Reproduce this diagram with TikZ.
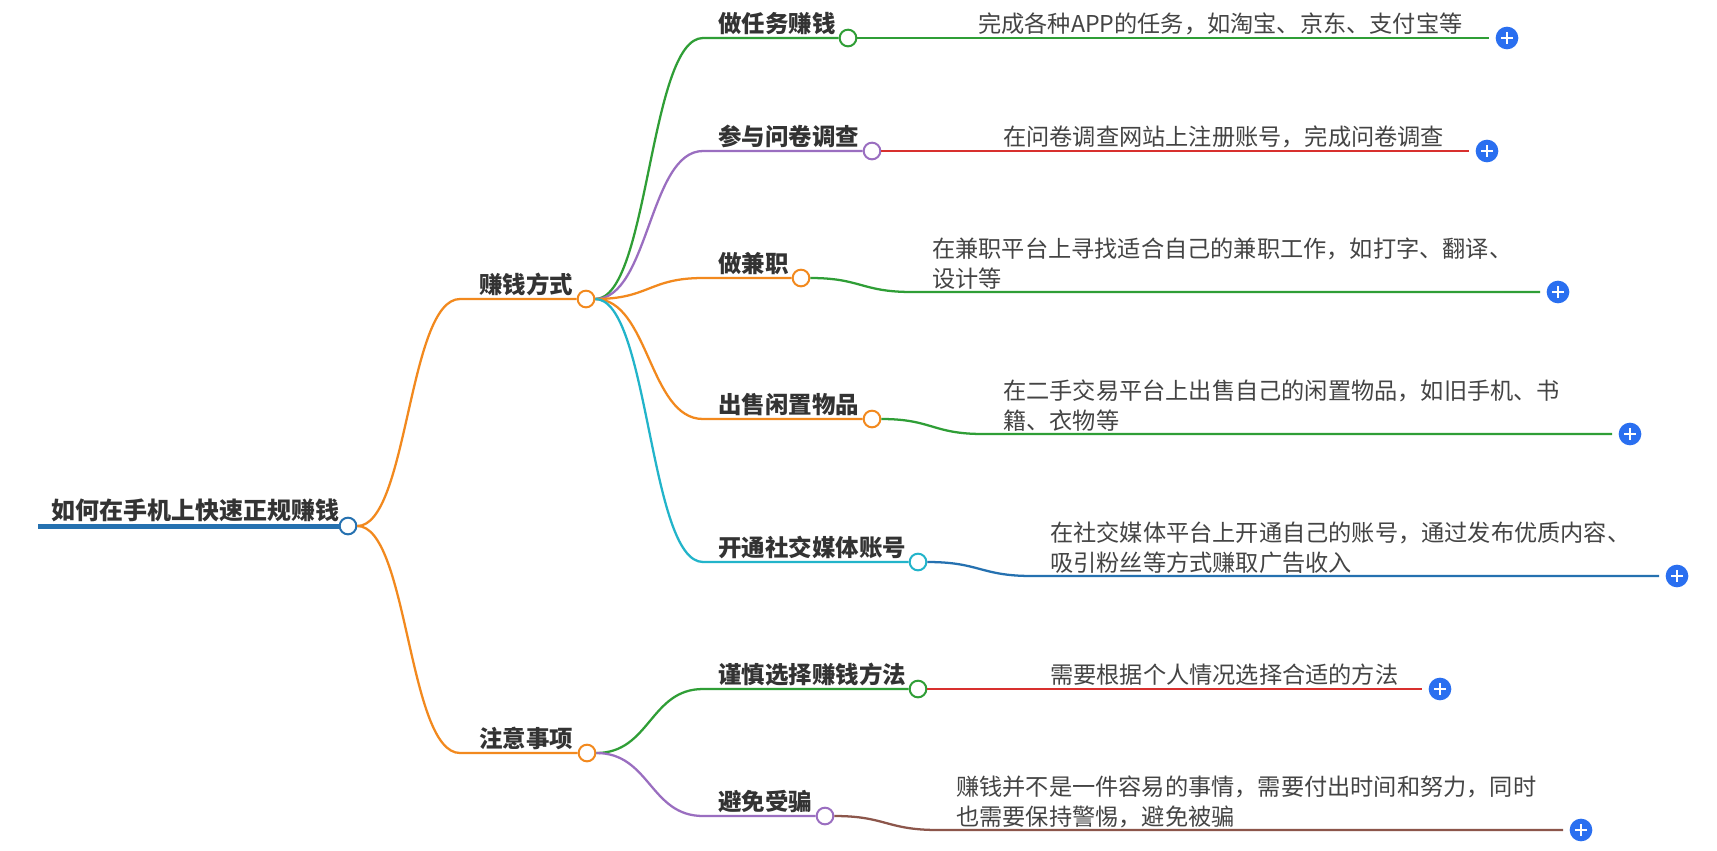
\documentclass[tikz,border=0pt]{standalone}
\usepackage{fontspec}
\newfontfamily\cjk{Noto Sans CJK SC}
\definecolor{corange}{HTML}{F2891E}
\definecolor{cgreen}{HTML}{2F9E36}
\definecolor{cpurple}{HTML}{9A6EC0}
\definecolor{cred}{HTML}{D8302E}
\definecolor{ccyan}{HTML}{22B4CA}
\definecolor{cblue}{HTML}{2571B0}
\definecolor{cbrown}{HTML}{8C564B}
\definecolor{cplus}{HTML}{2A6FF0}
\definecolor{txtc}{HTML}{333333}
\definecolor{leafc}{HTML}{444444}
\begin{document}
\begin{tikzpicture}[x=0.75pt,y=-0.75pt,
  lbl/.style={font=\cjk\bfseries\fontsize{17.6pt}{22pt}\selectfont, text=txtc, inner sep=0pt, anchor=south west},
  rootlbl/.style={lbl, font=\cjk\bfseries\fontsize{18pt}{22pt}\selectfont},
  leaf/.style={font=\cjk\fontsize{17.4pt}{22.5pt}\selectfont, text=leafc, inner sep=0pt, anchor=south west, align=left},
  dot/.style={circle, draw=#1, fill=white, line width=1.5pt, minimum size=12.5pt, inner sep=0pt},
  conn/.style={line width=1.7pt, draw=#1},
  plusbtn/.style={circle, fill=cplus, minimum size=17pt, inner sep=0pt, outer sep=5pt,
    path picture={\draw[white, line width=1.6pt] (path picture bounding box.center) +(-4.2pt,0) -- +(4.2pt,0)
      (path picture bounding box.center) +(0,-4.2pt) -- +(0,4.2pt);}}
]
\useasboundingbox (0,0) rectangle (1717,850);
\fill[white] (0,0) rectangle (1717,850);

% root
\coordinate (roots) at (38,526);
\node[rootlbl] (root) at (51,522) {如何在手机上快速正规赚钱};
\node[dot=cblue] (rootc) at (348,526) {};
\draw[line width=3.75pt, cblue] (roots) -- (rootc.west);

% level 1
\coordinate (As) at (460,299);
\node[lbl] (A) at (479,296) {赚钱方式};
\node[dot=corange] (Ac) at (586,299) {};
\coordinate (Bs) at (460,753);
\node[lbl] (B) at (479,750) {注意事项};
\node[dot=corange] (Bc) at (587,753) {};
\draw[conn=corange] (rootc.east) .. controls (408,526) and (408,299) .. (As) -- (Ac.west);
\draw[conn=corange] (rootc.east) .. controls (408,526) and (408,753) .. (Bs) -- (Bc.west);

% level 2 under A
\coordinate (A1s) at (703,38);
\node[lbl] (A1) at (718,35) {做任务赚钱};
\node[dot=cgreen] (A1c) at (848,38) {};
\coordinate (A2s) at (703,151);
\node[lbl] (A2) at (718,148) {参与问卷调查};
\node[dot=cpurple] (A2c) at (872,151) {};
\coordinate (A3s) at (703,278);
\node[lbl] (A3) at (718,275) {做兼职};
\node[dot=corange] (A3c) at (801,278) {};
\coordinate (A4s) at (703,419);
\node[lbl] (A4) at (718,416) {出售闲置物品};
\node[dot=corange] (A4c) at (872,419) {};
\coordinate (A5s) at (703,562);
\node[lbl] (A5) at (718,559) {开通社交媒体账号};
\node[dot=ccyan] (A5c) at (918,562) {};

\draw[conn=cgreen] (Ac.east) .. controls (649,299) and (649,38) .. (A1s) -- (A1c.west);
\draw[conn=cpurple] (Ac.east) .. controls (649,299) and (649,151) .. (A2s) -- (A2c.west);
\draw[conn=corange] (Ac.east) .. controls (649,299) and (649,278) .. (A3s) -- (A3c.west);
\draw[conn=corange] (Ac.east) .. controls (649,299) and (649,419) .. (A4s) -- (A4c.west);
\draw[conn=ccyan] (Ac.east) .. controls (649,299) and (649,562) .. (A5s) -- (A5c.west);

% level 2 under B
\coordinate (B1s) at (703,689);
\node[lbl] (B1) at (718,686) {谨慎选择赚钱方法};
\node[dot=cgreen] (B1c) at (918,689) {};
\coordinate (B2s) at (703,816);
\node[lbl] (B2) at (718,813) {避免受骗};
\node[dot=cpurple] (B2c) at (825,816) {};
\draw[conn=cgreen] (Bc.east) .. controls (650,753) and (650,689) .. (B1s) -- (B1c.west);
\draw[conn=cpurple] (Bc.east) .. controls (650,753) and (650,816) .. (B2s) -- (B2c.west);

% leaves
\node[leaf] (L1) at (978,35) {完成各种APP的任务，如淘宝、京东、支付宝等};
\coordinate (L1s) at (960,38);
\node[plusbtn] (P1) at (1507,38) {};
\draw[conn=cgreen] (A1c.east) -- (L1s) -- (P1.west);

\node[leaf] (L2) at (1003,148) {在问卷调查网站上注册账号，完成问卷调查};
\coordinate (L2s) at (985,151);
\node[plusbtn] (P2) at (1487,151) {};
\draw[conn=cred] (A2c.east) -- (L2s) -- (P2.west);

\node[leaf] (L3) at (932,290) {在兼职平台上寻找适合自己的兼职工作，如打字、翻译、\\设计等};
\coordinate (L3s) at (912,292);
\node[plusbtn] (P3) at (1558,292) {};
\draw[conn=cgreen] (A3c.east) .. controls (861,278) and (861,292) .. (L3s) -- (P3.west);

\node[leaf] (L4) at (1003,432) {在二手交易平台上出售自己的闲置物品，如旧手机、书\\籍、衣物等};
\coordinate (L4s) at (983,434);
\node[plusbtn] (P4) at (1630,434) {};
\draw[conn=cgreen] (A4c.east) .. controls (932,419) and (932,434) .. (L4s) -- (P4.west);

\node[leaf] (L5) at (1050,574) {在社交媒体平台上开通自己的账号，通过发布优质内容、\\吸引粉丝等方式赚取广告收入};
\coordinate (L5s) at (1032,576);
\node[plusbtn] (P5) at (1677,576) {};
\draw[conn=cblue] (A5c.east) .. controls (980,562) and (980,576) .. (L5s) -- (P5.west);

\node[leaf] (L6) at (1050,686) {需要根据个人情况选择合适的方法};
\coordinate (L6s) at (1032,689);
\node[plusbtn] (P6) at (1440,689) {};
\draw[conn=cred] (B1c.east) -- (L6s) -- (P6.west);

\node[leaf] (L7) at (956,828) {赚钱并不是一件容易的事情，需要付出时间和努力，同时\\也需要保持警惕，避免被骗};
\coordinate (L7s) at (938,830);
\node[plusbtn] (P7) at (1581,830) {};
\draw[conn=cbrown] (B2c.east) .. controls (886,816) and (886,830) .. (L7s) -- (P7.west);
\end{tikzpicture}
\end{document}
